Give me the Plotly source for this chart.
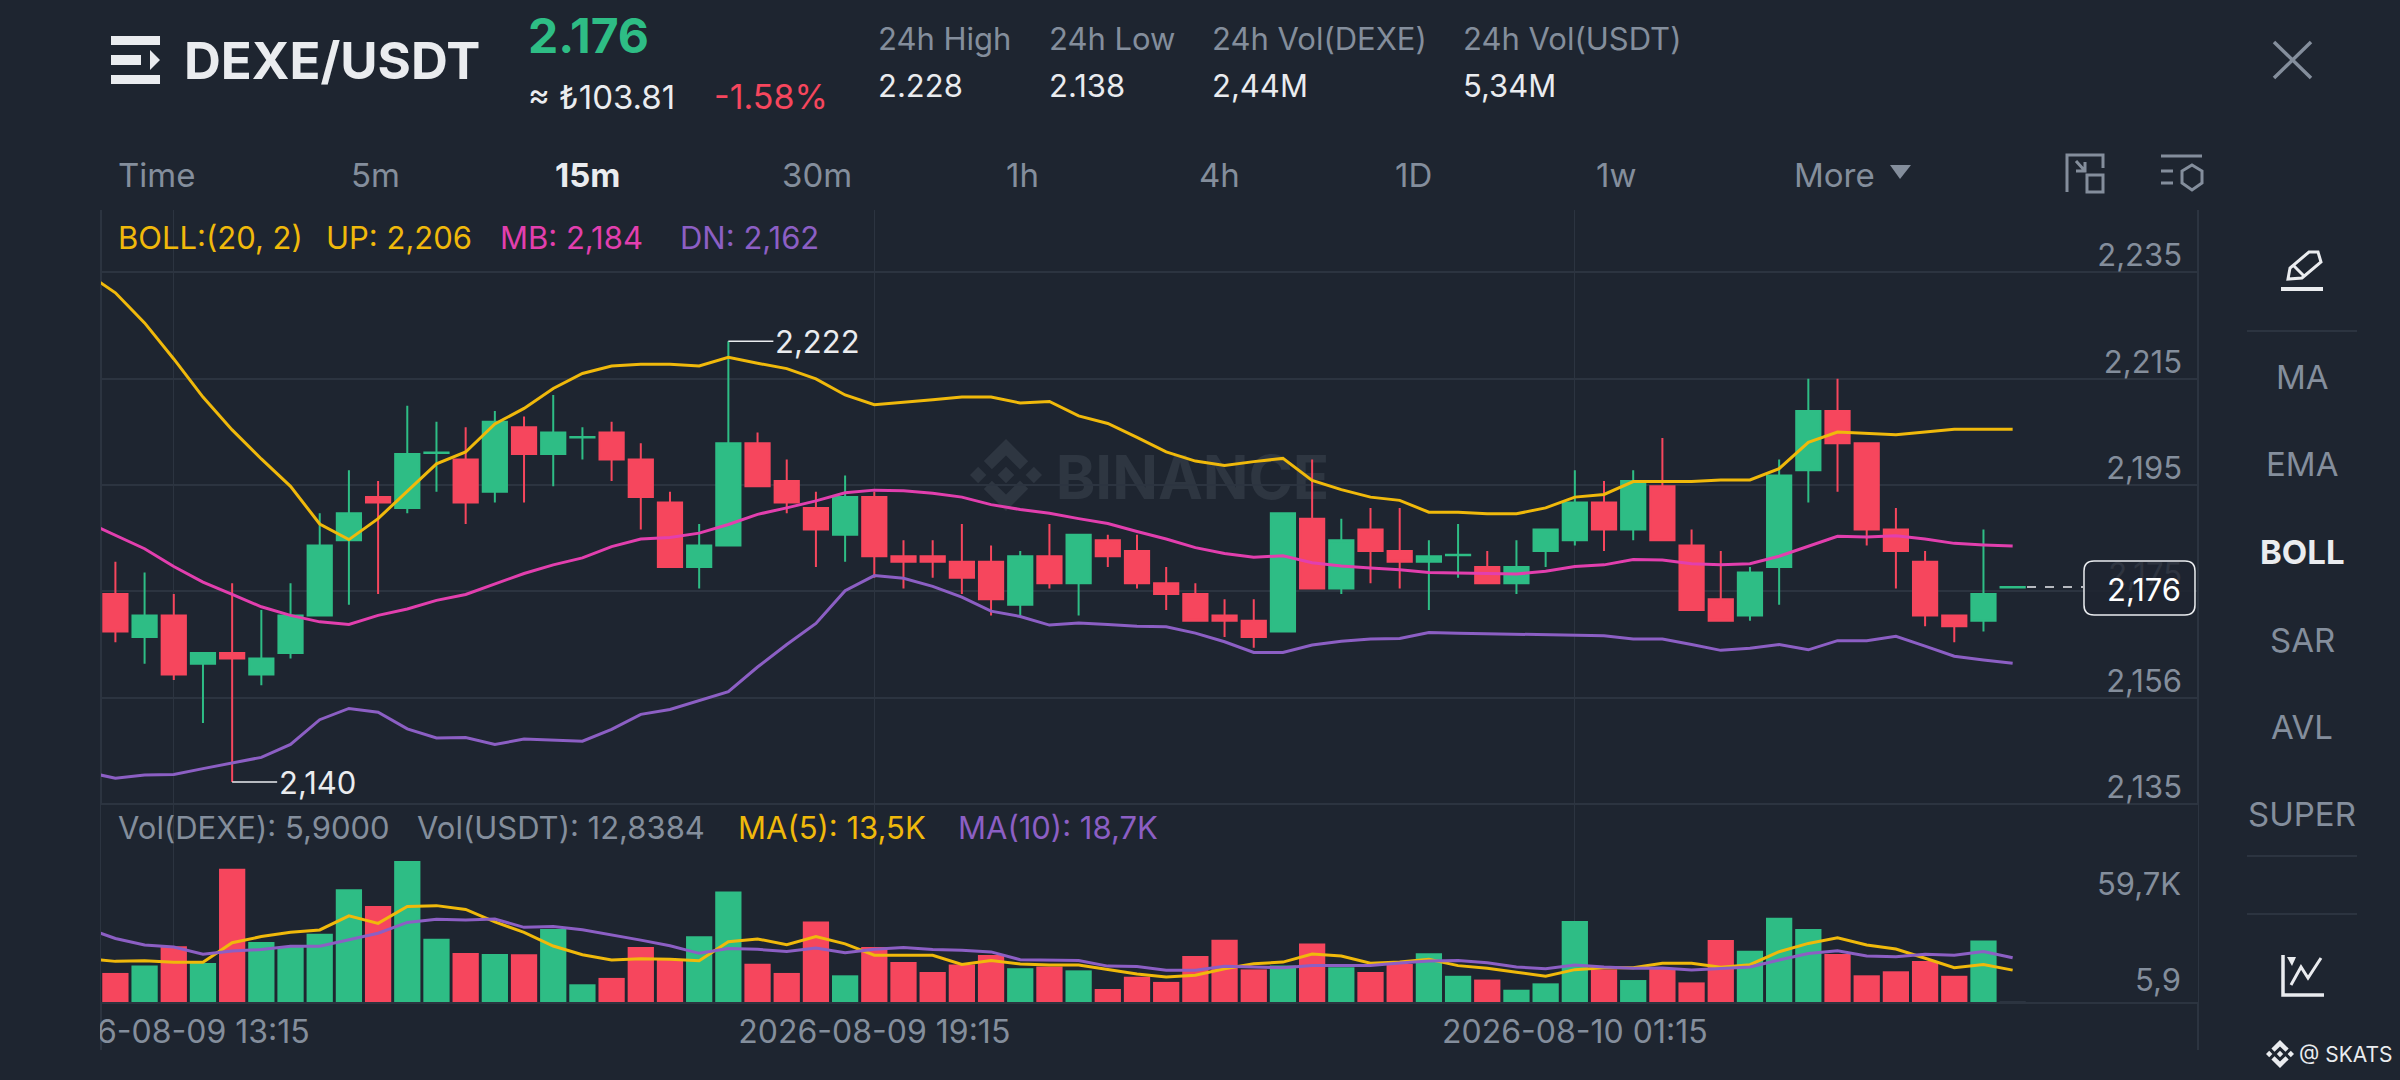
import pandas as pd
import plotly.graph_objects as go
from plotly.subplots import make_subplots

# one extra slot in front: the lines start left of the first visible candle
times = pd.date_range("2026-08-09 12:30", periods=67, freq="15min")

opens = [2.175, 2.167, 2.171, 2.162, 2.164, 2.160, 2.164, 2.171, 2.185, 2.193, 2.191, 2.2012, 2.200, 2.194, 2.206, 2.201, 2.2041,
         2.205, 2.200, 2.192, 2.180, 2.184, 2.203, 2.196, 2.191, 2.186, 2.193, 2.182, 2.182, 2.181, 2.181, 2.173, 2.182,
         2.177, 2.185, 2.183, 2.177, 2.175, 2.171, 2.170, 2.168, 2.189, 2.176, 2.187, 2.183, 2.181, 2.1822, 2.180, 2.177,
         2.183, 2.185, 2.192, 2.187, 2.195, 2.184, 2.174, 2.171, 2.180, 2.198, 2.209, 2.203, 2.187, 2.181, 2.171, 2.170, 2.1762]
highs = [2.181, 2.179, 2.175, 2.164, 2.177, 2.172, 2.177, 2.190, 2.198, 2.196, 2.210, 2.207, 2.206, 2.209, 2.208, 2.212, 2.206,
         2.207, 2.203, 2.194, 2.188, 2.222, 2.205, 2.200, 2.194, 2.197, 2.194, 2.185, 2.185, 2.188, 2.184, 2.183, 2.188,
         2.186, 2.186, 2.186, 2.180, 2.177, 2.174, 2.174, 2.190, 2.200, 2.189, 2.191, 2.191, 2.185, 2.188, 2.183, 2.185,
         2.187, 2.198, 2.196, 2.198, 2.204, 2.187, 2.183, 2.180, 2.200, 2.215, 2.215, 2.203, 2.191, 2.183, 2.171, 2.187, 2.1763]
lows = [2.166, 2.162, 2.159, 2.151, 2.140, 2.158, 2.163, 2.171, 2.173, 2.175, 2.190, 2.194, 2.188, 2.192, 2.192, 2.195, 2.200,
        2.196, 2.187, 2.180, 2.176, 2.184, 2.195, 2.190, 2.180, 2.181, 2.178, 2.176, 2.178, 2.175, 2.171, 2.171, 2.176,
        2.171, 2.180, 2.176, 2.172, 2.170, 2.167, 2.165, 2.168, 2.176, 2.175, 2.177, 2.176, 2.172, 2.178, 2.177, 2.175,
        2.180, 2.184, 2.183, 2.185, 2.185, 2.172, 2.170, 2.170, 2.173, 2.192, 2.194, 2.184, 2.176, 2.169, 2.166, 2.168, 2.1762]
closes = [2.168, 2.171, 2.160, 2.164, 2.163, 2.163, 2.171, 2.184, 2.190, 2.192, 2.201, 2.2013, 2.192, 2.207, 2.201, 2.205, 2.2042,
          2.200, 2.193, 2.180, 2.184, 2.203, 2.195, 2.192, 2.187, 2.193, 2.182, 2.181, 2.181, 2.178, 2.174, 2.182, 2.177,
          2.186, 2.182, 2.177, 2.175, 2.170, 2.170, 2.167, 2.190, 2.176, 2.185, 2.183, 2.181, 2.182, 2.1823, 2.177, 2.180,
          2.187, 2.192, 2.187, 2.196, 2.185, 2.172, 2.170, 2.179, 2.197, 2.209, 2.203, 2.187, 2.183, 2.171, 2.169, 2.175, 2.1763]

boll_up = [2.2347, 2.2310, 2.2254, 2.2187, 2.2116, 2.2055, 2.2001, 2.1950, 2.1880, 2.1851, 2.1890, 2.1941, 2.1992, 2.2014, 2.2066, 2.2095, 2.2132,
           2.2160, 2.2174, 2.2177, 2.2177, 2.2174, 2.2190, 2.2179, 2.2169, 2.2150, 2.2120, 2.2102, 2.2106, 2.2111, 2.2116, 2.2116, 2.2105,
           2.2108, 2.2081, 2.2067, 2.2041, 2.2014, 2.1997, 2.1989, 2.1996, 2.2002, 2.1961, 2.1944, 2.1930, 2.1924, 2.1902, 2.1902, 2.1899,
           2.1899, 2.1910, 2.1930, 2.1935, 2.1959, 2.1959, 2.1959, 2.1962, 2.1962, 2.1983, 2.2032, 2.2051, 2.2048, 2.2046, 2.2051, 2.2056, 2.2056, 2.2056]
boll_mb = [2.1884, 2.1859, 2.1834, 2.1801, 2.1772, 2.1749, 2.1726, 2.1710, 2.1698, 2.1693, 2.1710, 2.1722, 2.1738, 2.1749, 2.1768, 2.1788, 2.1804,
           2.1817, 2.1838, 2.1852, 2.1855, 2.1863, 2.1879, 2.1898, 2.1910, 2.1923, 2.1938, 2.1943, 2.1942, 2.1937, 2.1930, 2.1916, 2.1907,
           2.1900, 2.1890, 2.1881, 2.1866, 2.1852, 2.1836, 2.1825, 2.1818, 2.1821, 2.1808, 2.1802, 2.1798, 2.1795, 2.1790, 2.1789, 2.1788,
           2.1787, 2.1792, 2.1801, 2.1804, 2.1814, 2.1813, 2.1806, 2.1804, 2.1806, 2.1820, 2.1839, 2.1857, 2.1856, 2.1858, 2.1852, 2.1844, 2.1841, 2.1839]
boll_dn = [2.1419, 2.1407, 2.1413, 2.1414, 2.1425, 2.1435, 2.1446, 2.1470, 2.1516, 2.1537, 2.1530, 2.1499, 2.1482, 2.1483, 2.1470, 2.1480, 2.1478,
           2.1476, 2.1498, 2.1526, 2.1535, 2.1552, 2.1568, 2.1614, 2.1656, 2.1695, 2.1756, 2.1784, 2.1779, 2.1764, 2.1744, 2.1718, 2.1708,
           2.1692, 2.1696, 2.1693, 2.1690, 2.1689, 2.1677, 2.1661, 2.1641, 2.1641, 2.1655, 2.1662, 2.1666, 2.1667, 2.1678, 2.1677, 2.1676,
           2.1676, 2.1674, 2.1674, 2.1672, 2.1666, 2.1666, 2.1656, 2.1645, 2.1649, 2.1656, 2.1646, 2.1663, 2.1663, 2.1671, 2.1653, 2.1634, 2.1627, 2.1621]

volumes = [12.3, 15.4, 23.6, 16.5, 56.4, 25.4, 23.3, 28.9, 47.7, 40.6, 59.7, 26.8, 20.7, 20.3, 20.2, 30.9, 7.5,
           10.2, 23.3, 18.1, 27.8, 46.8, 16.2, 12.3, 34.1, 11.3, 23.3, 16.9, 12.7, 15.9, 19.9, 14.3, 15.0,
           13.4, 5.5, 10.7, 8.5, 19.5, 26.4, 13.8, 15.5, 24.8, 14.7, 12.7, 16.1, 20.6, 11.1, 9.5, 5.2,
           7.9, 34.3, 13.8, 9.3, 14.0, 8.3, 26.2, 21.7, 35.7, 30.9, 20.3, 11.3, 13.0, 17.4, 11.1, 26.0, 0.0059]
vol_ma5 = [18.3, 17.2, 17.5, 16.8, 16.8, 25.1, 27.7, 29.5, 30.5, 36.5, 33.3, 40.4, 40.8, 39.2, 33.9, 29.5, 23.7,
           20.0, 17.8, 18.3, 18.1, 17.5, 25.5, 26.7, 24.3, 27.7, 24.6, 19.8, 19.8, 19.8, 15.9, 17.6, 16.1,
           15.7, 15.7, 13.7, 11.9, 10.6, 11.3, 14.1, 16.2, 16.9, 20.3, 19.5, 16.4, 16.9, 18.1, 15.4, 14.3,
           12.6, 10.9, 13.7, 14.5, 14.5, 16.4, 16.4, 14.7, 15.8, 21.3, 24.8, 27.2, 24.1, 22.4, 18.5, 14.5, 15.9, 13.5]
vol_ma10 = [31.2, 26.9, 24.1, 23.3, 20.2, 21.6, 22.2, 23.6, 23.6, 26.2, 29.1, 33.7, 35.0, 34.7, 35.1, 31.6, 32.0,
            30.6, 28.5, 26.2, 23.8, 20.6, 22.6, 22.3, 21.4, 22.9, 20.9, 22.3, 23.1, 22.2, 21.9, 21.2, 17.9,
            17.6, 17.6, 15.2, 15.0, 13.4, 13.4, 15.1, 14.8, 14.5, 15.4, 15.4, 15.5, 16.5, 17.4, 17.6, 16.6,
            14.8, 14.1, 15.7, 14.8, 14.3, 14.4, 13.5, 14.0, 14.8, 17.8, 20.5, 21.7, 19.5, 19.2, 20.2, 19.8, 21.4, 18.7]

grid_prices = [2.2348, 2.2150, 2.1952, 2.1755, 2.1557, 2.1359]
grid_labels = ["2,235", "2,215", "2,195", "2,175", "2,156", "2,135"]
time_ticks = ["2026-08-09 13:15", "2026-08-09 19:15", "2026-08-10 01:15"]

period_tabs = ["Time", "5m", "15m", "30m", "1h", "4h", "1D", "1w", "More"]
side_tabs = ["MA", "EMA", "BOLL", "SAR", "AVL", "SUPER"]

BG = "#1E2530"
GRID = "#2C3440"
GREEN = "#2EBD85"
RED = "#F6465D"
YELLOW = "#F0B90B"
PINK = "#E23FAE"
PURPLE = "#8C5FC4"
GRAY = "#848E9C"
WHITE = "#EAECEF"
FONT = "Inter"


def px(x):
    return x / 2400


def py(y):
    return 1 - y / 1080


def text(label, x, y, size=31, color=GRAY, anchor="left", bold=False):
    shown = f"<b>{label}</b>" if bold else label
    fig.add_annotation(text=shown, xref="paper", yref="paper", x=px(x), y=py(y), showarrow=False,
                       xanchor=anchor, yanchor="middle", font=dict(family=FONT, size=size, color=color))


def icon(path, color=GRAY, width=3, fill=None, layer="above"):
    # icon paths are written in screen pixels, converted to paper coordinates here
    out = []
    for part in path.split():
        if part[0].isalpha():
            out.append(part[0])
            part = part[1:]
        if part:
            a, b = part.split(",")
            out.append(f"{px(float(a)):.5f},{py(float(b)):.5f}")
    fig.add_shape(type="path", xref="paper", yref="paper", path=" ".join(out), layer=layer,
                  line=dict(color=color, width=width), fillcolor=fill)


def logo(cx, cy, r, color, layer="above"):
    parts = [
        [(-.392, .157), (0, .545), (.39, .156), (.618, .383), (0, 1), (-.617, .385)],
        [(-.392, -.157), (0, -.545), (.39, -.156), (.618, -.383), (0, -1), (-.617, -.385)],
        [(-1, 0), (-.772, .228), (-.544, 0), (-.772, -.228)],
        [(1, 0), (.772, .228), (.544, 0), (.772, -.228)],
        [(-.23, 0), (0, .23), (.23, 0), (0, -.23)],
    ]
    for pts in parts:
        d = "M" + " L".join(f"{cx + a * r:.1f},{cy - b * r:.1f}" for a, b in pts) + " Z"
        icon(d, color=color, width=0, fill=color, layer=layer)


fig = make_subplots(rows=2, cols=1, shared_xaxes=True, vertical_spacing=0)

fig.add_trace(go.Candlestick(x=times[1:], open=opens, high=highs, low=lows, close=closes,
                             increasing=dict(line=dict(color=GREEN, width=2), fillcolor=GREEN),
                             decreasing=dict(line=dict(color=RED, width=2), fillcolor=RED),
                             showlegend=False), row=1, col=1)
fig.add_trace(go.Scatter(x=times, y=boll_up, mode="lines", line=dict(color=YELLOW, width=3)), row=1, col=1)
fig.add_trace(go.Scatter(x=times, y=boll_mb, mode="lines", line=dict(color=PINK, width=3)), row=1, col=1)
fig.add_trace(go.Scatter(x=times, y=boll_dn, mode="lines", line=dict(color=PURPLE, width=3)), row=1, col=1)

bar_colors = [GREEN if c > o else RED for o, c in zip(opens, closes)]
bar_colors[-1] = GRID
fig.add_trace(go.Bar(x=times[1:], y=volumes, marker=dict(color=bar_colors, line=dict(width=0))), row=2, col=1)
fig.add_trace(go.Scatter(x=times, y=vol_ma5, mode="lines", line=dict(color=YELLOW, width=3)), row=2, col=1)
fig.add_trace(go.Scatter(x=times, y=vol_ma10, mode="lines", line=dict(color=PURPLE, width=3)), row=2, col=1)

fig.update_layout(width=2400, height=1080, autosize=False, margin=dict(l=0, r=0, t=0, b=0),
                  paper_bgcolor=BG, plot_bgcolor=BG, showlegend=False, boxgap=0.17, boxgroupgap=0, bargap=0.1,
                  hovermode=False, font=dict(family=FONT, color=GRAY))
# the price axis runs a little into the volume pane so its lowest label is not dropped
fig.update_layout(
    xaxis=dict(domain=[px(101), px(2198)], showticklabels=False, automargin=False),
    xaxis2=dict(domain=[px(101), px(2198)], automargin=False),
    yaxis=dict(domain=[py(825), py(210)], range=[2.13202, 2.2464], side="right", tickmode="array", automargin=False,
               tickvals=grid_prices, ticktext=grid_labels, ticklabelposition="inside",
               ticklabelstandoff=13, ticklabelshift=-17, showgrid=True, gridcolor=GRID, gridwidth=2,
               zeroline=False, showline=False, tickfont=dict(family=FONT, size=31, color=GRAY)),
    yaxis2=dict(domain=[py(1002), py(805)], range=[0, 83.4], showticklabels=False, showgrid=False, automargin=False,
                zeroline=False, showline=False),
)
x_range = ["2026-08-09 12:37:36", "2026-08-10 06:35:15"]
for axis in ("xaxis", "xaxis2"):
    fig.update_layout({axis: dict(range=x_range, type="date", tickmode="array", tickvals=time_ticks,
                                  ticktext=time_ticks, showgrid=True, gridcolor=GRID, gridwidth=1,
                                  zeroline=False, rangeslider=dict(visible=False))})
fig.update_xaxes(showline=True, linecolor=GRID, linewidth=2, ticks="outside", ticklen=1, tickcolor="rgba(0,0,0,0)",
                 tickfont=dict(family=FONT, size=32, color=GRAY), row=2, col=1)
fig.update_xaxes(showline=False, row=1, col=1)

# panel borders
for x in (101, 2198):
    fig.add_shape(type="line", xref="paper", yref="paper", x0=px(x), x1=px(x), y0=py(210), y1=py(1050),
                  line=dict(color=GRID, width=2), layer="below")

# cuts off the first date label at the panel border
fig.add_shape(type="rect", xref="paper", yref="paper", x0=0, x1=px(100), y0=py(1055), y1=py(1008),
              fillcolor=BG, line=dict(width=0), layer="above")

# watermark under the candles
logo(1006, 475, 36, "#2E3641", layer="below")
fig.add_shape(type="rect", xref="paper", yref="paper", x0=px(1050), x1=px(1335), y0=py(500), y1=py(450),
              line=dict(width=0), fillcolor="rgba(0,0,0,0)", layer="below",
              label=dict(text="<b>BINANCE</b>", font=dict(family=FONT, size=60, color="#2E3641"), textposition="middle center"))

# high / low markers
fig.add_annotation(x=times[22], y=highs[21], xref="x", yref="y", ax=45, ay=0, text="2,222", showarrow=True,
                   arrowhead=0, arrowwidth=1.5, arrowcolor=WHITE, xanchor="left", yanchor="middle",
                   font=dict(family=FONT, size=31, color=WHITE))
fig.add_annotation(x=times[5], y=lows[4], xref="x", yref="y", ax=45, ay=0, text="2,140", showarrow=True,
                   arrowhead=0, arrowwidth=1.5, arrowcolor=WHITE, xanchor="left", yanchor="middle",
                   font=dict(family=FONT, size=31, color=WHITE))

# last price
fig.add_shape(type="line", xref="paper", yref="y", x0=px(2027), x1=px(2083), y0=closes[-1], y1=closes[-1],
              line=dict(color=WHITE, width=1.5, dash="dash"), layer="above")
icon("M2094,561 L2185,561 Q2195,561 2195,571 L2195,605 Q2195,615 2185,615 L2094,615 Q2084,615 2084,605 L2084,571 Q2084,561 2094,561 Z",
     color=WHITE, width=1.5, fill="rgba(30,37,48,0.85)")
text("2,176", 2183, 589, color="#FFFFFF", anchor="right")

# pane legends
text("BOLL:(20, 2)", 116, 238, color=YELLOW)
text("UP: 2,206", 324, 238, color=YELLOW)
text("MB: 2,184", 498, 238, color=PINK)
text("DN: 2,162", 678, 238, color=PURPLE)
text("Vol(DEXE): 5,9000", 116, 827)
text("Vol(USDT): 12,8384", 415, 827)
text("MA(5): 13,5K", 736, 827, color=YELLOW)
text("MA(10): 18,7K", 956, 827, color=PURPLE)
fig.add_annotation(text="59,7K", xref="paper", yref="y2", x=px(2183), y=volumes[10], showarrow=False, xanchor="right",
                   yanchor="top", yshift=-2, font=dict(family=FONT, size=31, color=GRAY))
fig.add_annotation(text="5,9", xref="paper", yref="y2", x=px(2183), y=0, showarrow=False, xanchor="right",
                   yanchor="bottom", yshift=2, font=dict(family=FONT, size=31, color=GRAY))

# header
for y0, y1 in ((36, 45), (75, 84)):
    icon(f"M111,{y0} L160,{y0} L160,{y1} L111,{y1} Z", color=WHITE, width=0, fill=WHITE)
icon("M111,55 L141,55 L141,65 L111,65 Z", color=WHITE, width=0, fill=WHITE)
icon("M150,50 L160,60 L150,70 Z", color=WHITE, width=0, fill=WHITE)
text("DEXE/USDT", 182, 61, size=51, color=WHITE, bold=True)
text("2.176", 526, 36, size=48, color=GREEN, bold=True)
text("≈ ₺103.81", 526, 97, size=33, color=WHITE)
text("-1.58%", 712, 97, size=34, color=RED)
stat_names = ["24h High", "24h Low", "24h Vol(DEXE)", "24h Vol(USDT)"]
stat_values = ["2.228", "2.138", "2,44M", "5,34M"]
for name, value, x in zip(stat_names, stat_values, (876, 1047, 1210, 1461)):
    text(name, x, 38, size=31)
    text(value, x, 85, size=31, color=WHITE)

# period tabs
for name, x in zip(period_tabs, (116, 349, 553, 780, 1004, 1197, 1393, 1594, 1792)):
    if name == "15m":
        text(name, x, 175, size=33, color=WHITE, bold=True)
    else:
        text(name, x, 175, size=33)
icon("M1890,165 L1911,165 L1900,179 Z", color=GRAY, width=0, fill=GRAY)
icon("M2067,192 L2067,155 L2103,155 L2103,168 M2087,175 L2103,175 L2103,192 L2087,192 Z M2076,161 L2085,171 M2085,162 L2085,171 L2076,171",
     width=3)
icon("M2161,156 L2202,156 M2161,171 L2173,171 M2161,183 L2173,183 M2192,165 L2202,171 L2202,183 L2192,190 L2182,183 L2182,171 Z",
     width=3)
icon("M2274,42 L2311,78 M2311,42 L2274,78", width=3.5)

# side toolbar
for name, y in zip(side_tabs, (377, 464, 552, 640, 727, 814)):
    if name == "BOLL":
        text(name, 2302, y, size=33, color=WHITE, anchor="center", bold=True)
    else:
        text(name, 2302, y, size=33, anchor="center")
for y in (331, 856, 914):
    fig.add_shape(type="line", xref="paper", yref="paper", x0=px(2247), x1=px(2357), y0=py(y), y1=py(y),
                  line=dict(color=GRID, width=2))
icon("M2288,279 L2290,268 L2309,252 L2318,252 L2321,262 L2302,278 Z M2293,265 L2304,276", color=WHITE, width=3)
icon("M2281,287 L2323,287 L2323,291 L2281,291 Z", color=WHITE, width=0, fill=WHITE)
icon("M2283,955 L2283,995 L2324,995", color=WHITE, width=3.5)
icon("M2291,985 L2301,967 L2308,978 L2321,958", color=WHITE, width=3)
icon("M2287,957 L2296,957 L2292,966 Z", color=WHITE, width=0, fill=WHITE)

logo(2280, 1054, 14, WHITE)
text("@ SKATS", 2297, 1054, size=21, color=WHITE)

fig.write_html("out.html", config={"displayModeBar": False},
               post_script=f"document.body.style.margin='0';document.body.style.background='{BG}';")
